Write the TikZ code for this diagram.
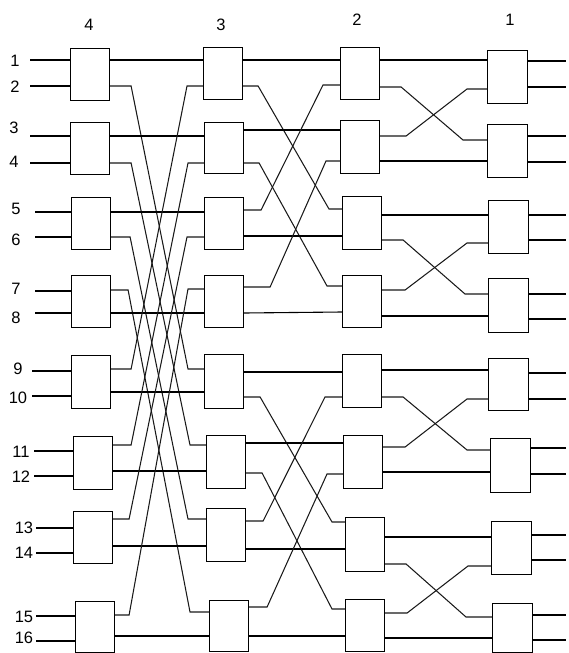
\documentclass[tikz,border=0pt]{standalone}
\usepackage{fontspec}
\setmainfont{Liberation Sans}
\usetikzlibrary{calc}
\tikzset{
  swbox/.style={draw, line width=1.1pt, inner sep=0pt, anchor=north west},
  wire/.style={line width=1.1pt},
  diag/.style={line width=1.05pt, black!90},
  lbl/.style={font=\fontsize{16.5}{16.5}\selectfont, inner sep=0pt},
}
% name, left, top, width, height, in1, in2, out1, out2
\newcommand\swb[9]{%
  \node[swbox, minimum width=#4pt, minimum height=#5pt] (#1) at (#2,#3) {};
  \coordinate (#1i1) at (#1.west |- 0,#6);
  \coordinate (#1i2) at (#1.west |- 0,#7);
  \coordinate (#1o1) at (#1.east |- 0,#8);
  \coordinate (#1o2) at (#1.east |- 0,#9);
}
% source port, target port, stub out, stub in
\newcommand\xl[4]{\draw[diag] (#1) -- ++(#3,0) -- ($(#2)+(-#4,0)$) -- (#2);}
\newcommand\st[2]{\draw[wire] (#1) -- (#2);}
\begin{document}
\begin{tikzpicture}[x=1pt,y=-1pt]
\useasboundingbox (0,0) rectangle (568,653);
% stage 4
\swb{A1}{70}{48}{39}{52}{60}{86}{60}{86}
\swb{A2}{70}{122}{39}{52}{136}{163}{136}{163}
\swb{A3}{71}{197}{39}{52}{212}{237}{212}{237}
\swb{A4}{71}{275}{39}{52}{291}{313}{290}{313}
\swb{A5}{71}{355}{39}{53}{371}{396}{369}{392}
\swb{A6}{73}{436}{39}{53}{451}{476}{445}{471}
\swb{A7}{73}{511}{39}{52}{528}{553}{519}{546}
\swb{A8}{75}{601}{39}{51}{616}{641}{615}{636}
% stage 3
\swb{B1}{203}{47}{39}{52}{60}{86}{60}{86}
\swb{B2}{204}{122}{39}{51}{136}{163}{130}{163}
\swb{B3}{204}{197}{39}{52}{212}{237}{210}{236}
\swb{B4}{204}{275}{39}{52}{289}{313}{287}{313}
\swb{B5}{204}{354}{39}{54}{369}{392}{372}{397}
\swb{B6}{206}{435}{39}{53}{445}{471}{443}{473}
\swb{B7}{206}{508}{39}{53}{519}{546}{521}{549}
\swb{B8}{209}{600}{39}{51}{612}{636}{607}{636}
% stage 2
\swb{C1}{340}{47}{39}{52}{60}{85}{60}{87}
\swb{C2}{340}{120}{39}{53}{130}{161}{136}{161}
\swb{C3}{342}{196}{39}{53}{209}{236}{215}{240}
\swb{C4}{342}{275}{39}{52}{286}{312}{290}{316}
\swb{C5}{342}{354}{39}{53}{372}{397}{370}{397}
\swb{C6}{343}{435}{39}{53}{443}{474}{447}{472}
\swb{C7}{345}{517}{39}{54}{522}{549}{537}{564}
\swb{C8}{345}{599}{39}{52}{609}{636}{613}{638}
% stage 1
\swb{D1}{487}{50}{40}{53}{60}{89}{61}{87}
\swb{D2}{487}{124}{40}{53}{140}{161}{136}{162}
\swb{D3}{488}{200}{40}{53}{215}{243}{215}{240}
\swb{D4}{488}{278}{40}{54}{294}{316}{294}{319}
\swb{D5}{488}{358}{40}{52}{370}{399}{373}{399}
\swb{D6}{490}{438}{40}{54}{450}{472}{448}{474}
\swb{D7}{491}{521}{40}{53}{537}{566}{535}{560}
\swb{D8}{492}{603}{40}{49}{617}{638}{615}{640}
% column labels
\node[lbl] (c4) at (89,25) {4};
\node[lbl] (c3) at (221,25) {3};
\node[lbl] (c2) at (357,20) {2};
\node[lbl] (c1) at (510,20) {1};
% input labels
\node[lbl] (l1) at (15,61) {1};
\node[lbl] (l2) at (15,87) {2};
\node[lbl] (l3) at (14,128) {3};
\node[lbl] (l4) at (14,162) {4};
\node[lbl] (l5) at (16,209) {5};
\node[lbl] (l6) at (16,240) {6};
\node[lbl] (l7) at (16,289) {7};
\node[lbl] (l8) at (16,318) {8};
\node[lbl] (l9) at (18,369) {9};
\node[lbl] (l10) at (18,398) {10};
\node[lbl] (l11) at (21,452) {11};
\node[lbl] (l12) at (21,477) {12};
\node[lbl] (l13) at (24,528) {13};
\node[lbl] (l14) at (24,553) {14};
\node[lbl] (l15) at (24,617) {15};
\node[lbl] (l16) at (24,638) {16};
% input wires
\foreach \b/\x in {A1/30,A2/30,A3/35,A4/35,A5/32,A6/34,A7/36,A8/36}{
  \coordinate (\b s1) at (\b i1 -| \x,0);
  \coordinate (\b s2) at (\b i2 -| \x,0);
  \draw[wire] (\b s1) -- (\b i1);
  \draw[wire] (\b s2) -- (\b i2);
}
% output wires
\foreach \b in {D1,D2,D3,D4,D5,D6,D7,D8}{
  \coordinate (\b e1) at (\b o1 -| 566,0);
  \coordinate (\b e2) at (\b o2 -| 566,0);
  \draw[wire] (\b o1) -- (\b e1);
  \draw[wire] (\b o2) -- (\b e2);
}
% stage 4 -> stage 3
\st{A1o1}{B1i1}
\xl{A1o2}{B5i1}{21}{16}
\st{A2o1}{B2i1}
\xl{A2o2}{B6i1}{21}{16}
\st{A3o1}{B3i1}
\xl{A3o2}{B7i1}{19}{18}
\xl{A4o1}{B8i1}{17}{19}
\st{A4o2}{B4i2}
\xl{A5o1}{B1i2}{20}{16}
\st{A5o2}{B5i2}
\xl{A6o1}{B2i2}{18}{16}
\st{A6o2}{B6i2}
\xl{A7o1}{B3i2}{16}{17}
\st{A7o2}{B7i2}
\xl{A8o1}{B4i1}{14}{16}
\st{A8o2}{B8i2}
% stage 3 -> stage 2
\st{B1o1}{C1i1}
\xl{B1o2}{C3i1}{15}{13}
\st{B2o1}{C2i1}
\xl{B2o2}{C4i1}{15}{15}
\xl{B3o1}{C1i2}{17}{17}
\st{B3o2}{C3i2}
\xl{B4o1}{C2i2}{26}{14}
\st{B4o2}{C4i2}
\st{B5o1}{C5i1}
\xl{B5o2}{C7i1}{16}{13}
\st{B6o1}{C6i1}
\xl{B6o2}{C8i1}{16}{13}
\xl{B7o1}{C5i2}{17}{17}
\st{B7o2}{C7i2}
\xl{B8o1}{C6i2}{18}{16}
\st{B8o2}{C8i2}
% stage 2 -> stage 1
\st{C1o1}{D1i1}
\xl{C1o2}{D2i1}{21}{24}
\xl{C2o1}{D1i2}{26}{20}
\st{C2o2}{D2i2}
\st{C3o1}{D3i1}
\xl{C3o2}{D4i1}{21}{23}
\xl{C4o1}{D3i2}{23}{21}
\st{C4o2}{D4i2}
\st{C5o1}{D5i1}
\xl{C5o2}{D6i1}{21}{23}
\xl{C6o1}{D5i2}{22}{21}
\st{C6o2}{D6i2}
\st{C7o1}{D7i1}
\xl{C7o2}{D8i1}{21}{26}
\xl{C8o1}{D7i2}{22}{23}
\st{C8o2}{D8i2}
\end{tikzpicture}
\end{document}
